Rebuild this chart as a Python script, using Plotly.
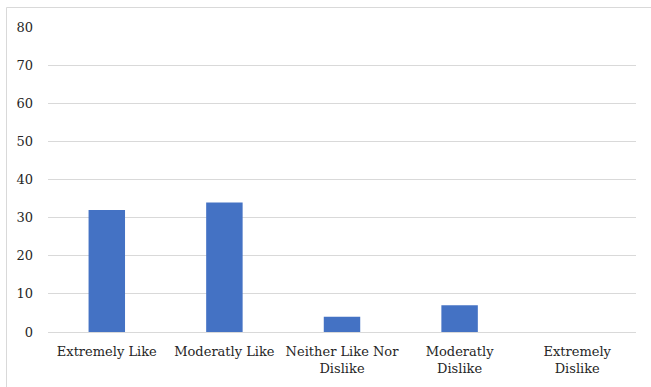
import plotly.graph_objects as go

categories = ["Extremely Like", "Moderatly Like", "Neither Like Nor Dislike",
              "Moderatly Dislike", "Extremely Dislike"]
tick_labels = ["Extremely Like", "Moderatly Like", "Neither Like Nor<br>Dislike",
               "Moderatly<br>Dislike", "Extremely<br>Dislike"]
values = [32, 34, 4, 7, 0]

W, H = 651, 387
ml, mr, mt, mb = 48, 15, 27, 55
pw, ph = W - ml - mr, H - mt - mb

fig = go.Figure(go.Bar(x=categories, y=values, marker_color="#4472C4",
                       marker_line_width=0))

font = dict(family="DejaVu Serif", size=13, color="#262626")

fig.update_layout(
    width=W, height=H,
    margin=dict(l=ml, r=mr, t=mt, b=mb),
    paper_bgcolor="white", plot_bgcolor="white",
    bargap=0.69,
    showlegend=False,
    font=font,
    xaxis=dict(tickmode="array", tickvals=categories, ticktext=tick_labels,
               showgrid=False, showline=False, ticks="", tickfont=font,
               ticklabelstandoff=10, automargin=False),
    yaxis=dict(range=[0, 80], dtick=10, showgrid=True, gridcolor="#d9d9d9",
               gridwidth=1, zeroline=True, zerolinecolor="#d9d9d9", zerolinewidth=1,
               showline=False, ticks="", ticklabelstandoff=14, tickfont=font,
               automargin=False),
)

# chart-area frame
fig.add_shape(type="rect", xref="paper", yref="paper",
              x0=(6.5 - ml) / pw, x1=(W + 5 - ml) / pw,
              y0=(mt + ph - (H + 5)) / ph, y1=(mt + ph - 7.5) / ph,
              line=dict(color="#d9d9d9", width=1), fillcolor="rgba(0,0,0,0)",
              layer="below")

fig.write_html("out.html")
